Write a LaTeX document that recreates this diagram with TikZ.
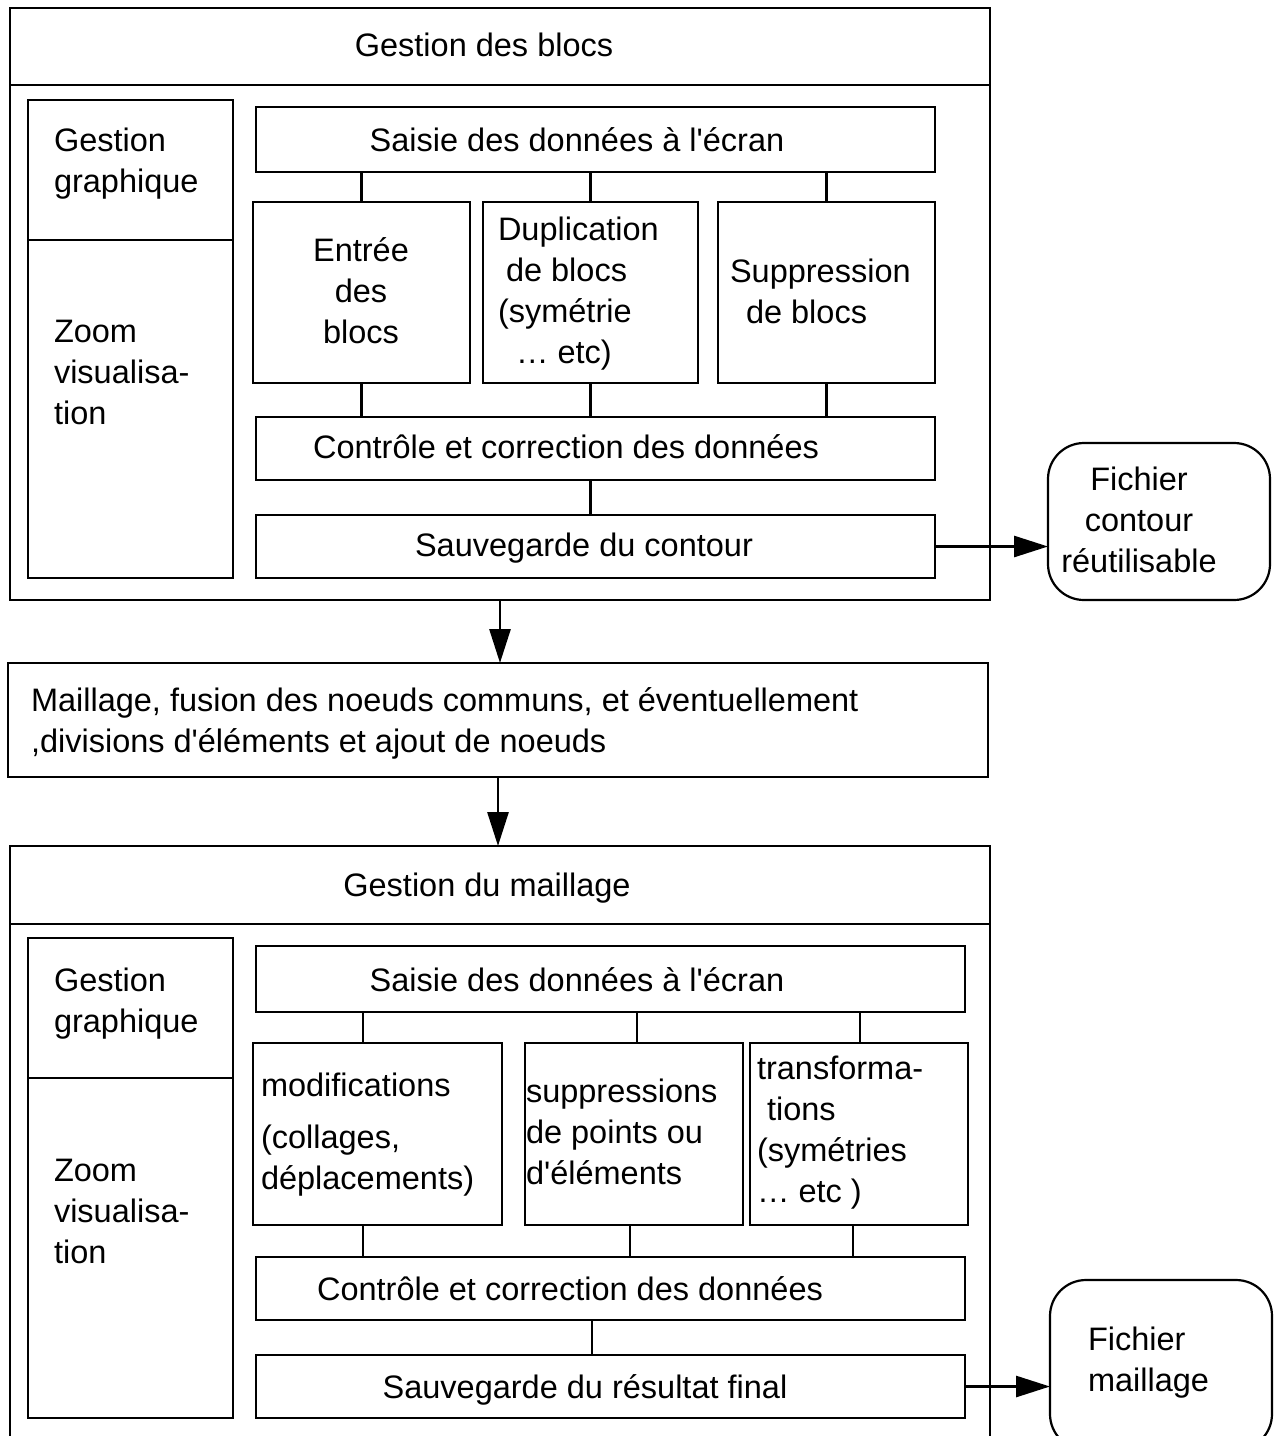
\documentclass[tikz,border=0pt]{standalone}
\usepackage{fontspec}
\setmainfont{Liberation Sans}[Ligatures=TeXOff]
\usetikzlibrary{arrows.meta}
% \boxat[style]{name}{x1}{y1}{x2}{y2}: an empty framed box spanning two corners
\newcommand\boxat[6][frame]{%
  \node[#1,minimum width={#5-#3},minimum height={#6-#4}] (#2) at ({(#3+#5)/2},{(#4+#6)/2}) {};}
\begin{document}
\begin{tikzpicture}[x=1pt,y=-1pt,
  frame/.style={draw,line width=2.2pt,inner sep=0pt,outer sep=0pt},
  filebox/.style={frame,rounded corners=36pt},
  txt/.style={inner sep=0pt,outer sep=0pt,font=\fontsize{32.5}{41}\selectfont},
  lt/.style={txt,align=left,anchor=west},
  ct/.style={txt,align=center},
  link/.style={line width=2.2pt},
  arr/.style={line width=2.8pt,-{Triangle[length=34pt,width=21pt]}}]
\useasboundingbox (0,0) rectangle (1283,1436);
\clip (0,0) rectangle (1283,1436);

% ---------- block management ----------
\boxat{g1}{10}{8}{990}{600}
\boxat{t1}{10}{8}{990}{85}
\node[ct] (t1l) at (484,45) {Gestion des blocs};
\boxat{gg1}{28}{100}{233}{240}
\node[lt] (gg1l) at (54,164) {Gestion\\graphique};
\boxat{zv1}{28}{240}{233}{578}
\node[lt] (zv1l) at (54,372) {Zoom\\visualisa-\\tion};
\boxat{sa1}{256}{107}{935}{172}
\node[ct] (sa1l) at (577,140) {Saisie des données à l'écran};
\boxat{en1}{253}{202}{470}{383}
\node[ct] (en1l) at (361,291) {Entrée\\des\\blocs};
\boxat{du1}{483}{202}{698}{383}
\node[lt] (du1l) at (498,294) {Duplication\\\hspace*{8pt}de blocs\\(symétrie\\\hspace*{18pt}… etc)};
\boxat{su1}{718}{202}{935}{383}
\node[lt] (su1l) at (730,291) {Suppression\\\hspace*{16pt}de blocs};
\boxat{co1}{256}{417}{935}{480}
\node[ct] (co1l) at (566,447) {Contrôle et correction des données};
\boxat{sv1}{256}{515}{935}{578}
\node[ct] (sv1l) at (584,548) {Sauvegarde du contour};
\boxat[filebox]{fc}{1048}{443}{1270}{600}
\node[ct] (fcl) at (1139,520) {Fichier\\contour\\réutilisable};

\foreach \b in {en1,du1,su1}{
  \draw[link] (\b.north) -- (\b.north |- sa1.south);
  \draw[link] (\b.south) -- (\b.south |- co1.north);
}
\draw[link] (co1.south -| du1) -- (sv1.north -| du1);
\draw[arr] (sv1.east) -- (sv1.east -| fc.west);

% ---------- meshing step ----------
\boxat{ma}{8}{663}{988}{777}
\node[lt] (mal) at (31,723) {Maillage, fusion des noeuds communs, et éventuellement\\,divisions d'éléments et ajout de noeuds};
\draw[arr] (g1.south) -- (g1.south |- ma.north);

% ---------- mesh management ----------
\boxat{g2}{10}{846}{990}{1470}
\draw[arr] (ma.south) -- (ma.south |- g2.north);
\boxat{t2}{10}{846}{990}{924}
\node[ct] (t2l) at (487,888) {Gestion du maillage};
\boxat{gg2}{28}{938}{233}{1078}
\node[lt] (gg2l) at (54,1004) {Gestion\\graphique};
\boxat{zv2}{28}{1078}{233}{1418}
\node[lt] (zv2l) at (54,1211) {Zoom\\visualisa-\\tion};
\boxat{sa2}{256}{946}{965}{1012}
\node[ct] (sa2l) at (577,980) {Saisie des données à l'écran};
\boxat{mo}{253}{1043}{502}{1225}
\node[lt] (mol) at (261,1135) {modifications\\[11pt](collages,\\déplacements)};
\boxat{sp}{525}{1043}{743}{1225}
\node[lt] (spl) at (526,1132) {suppressions\\de points ou\\d'éléments};
\boxat{tr}{750}{1043}{968}{1225}
\node[lt] (trl) at (757,1133) {transforma-\\\hspace*{10pt}tions\\(symétries\\… etc )};
\boxat{co2}{256}{1257}{965}{1320}
\node[ct] (co2l) at (570,1289) {Contrôle et correction des données};
\boxat{sv2}{256}{1355}{965}{1418}
\node[ct] (sv2l) at (585,1390) {Sauvegarde du résultat final};
\boxat[filebox]{fm}{1050}{1280}{1272}{1450}
\node[lt] (fml) at (1088,1363) {Fichier\\maillage};

\coordinate (k1) at (363,0);
\coordinate (k2) at (637,0);
\coordinate (k3) at (860,0);
\coordinate (k4) at (630,0);
\coordinate (k5) at (853,0);
\coordinate (k6) at (592,0);
\draw[link] (sa2.south -| k1) -- (mo.north -| k1);
\draw[link] (sa2.south -| k2) -- (sp.north -| k2);
\draw[link] (sa2.south -| k3) -- (tr.north -| k3);
\draw[link] (mo.south -| k1) -- (co2.north -| k1);
\draw[link] (sp.south -| k4) -- (co2.north -| k4);
\draw[link] (tr.south -| k5) -- (co2.north -| k5);
\draw[link] (co2.south -| k6) -- (sv2.north -| k6);
\draw[arr] (sv2.east) -- (sv2.east -| fm.west);
\end{tikzpicture}
\end{document}
